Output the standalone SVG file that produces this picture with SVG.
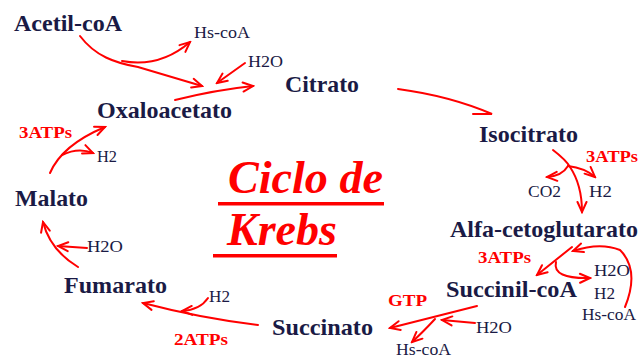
<svg xmlns="http://www.w3.org/2000/svg" width="639" height="360" viewBox="0 0 639 360">
<style>
.n{font-family:"Liberation Serif","Times New Roman",serif;font-weight:bold;font-size:23px;fill:#1a1a45}
.s{font-family:"Liberation Serif","Times New Roman",serif;font-size:17px;fill:#1a1a45}
.r{font-family:"Liberation Serif","Times New Roman",serif;font-weight:bold;font-size:16px;fill:#ff0000}
.t{font-family:"Liberation Serif","Times New Roman",serif;font-weight:bold;font-style:italic;font-size:47px;fill:#ff0000}
.a{fill:none;stroke:#ff0000;stroke-width:2;stroke-linecap:round}
.h{fill:none;stroke:#ff0000;stroke-width:2;stroke-linecap:round;marker-end:url(#v)}
</style>
<defs>
<marker id="v" viewBox="-12 -7 14 14" refX="0" refY="0" markerWidth="14" markerHeight="14" markerUnits="userSpaceOnUse" orient="auto">
<path d="M-10,-4.5 L0,0 L-10,4.5" fill="none" stroke="#ff0000" stroke-width="2" stroke-linecap="round"/>
</marker>
</defs>
<rect width="639" height="360" fill="#ffffff"/>
<g id="title">
<text class="t" x="228" y="193" textLength="155" lengthAdjust="spacingAndGlyphs">Ciclo de</text>
<rect x="218" y="202" width="166" height="3.5" fill="#ff0000"/>
<text class="t" x="227" y="245" textLength="110" lengthAdjust="spacingAndGlyphs">Krebs</text>
<rect x="213" y="254" width="124" height="3.5" fill="#ff0000"/>
</g>
<g id="connectors">
<path class="h" d="M80 36 C95 56 115 63 138 67 L202 86"/>
<path class="h" d="M122 61 Q160 68 190 42"/>
<path class="h" d="M245 63 L217 83"/>
<path class="h" d="M175 100 Q215 90 253 86"/>
<path class="a" d="M398 89 Q450 96 492 114 L473 114"/>
<path class="h" d="M553 150 Q566 160 570 167 Q582 185 582 212"/>
<path class="h" d="M568 166 Q562 176 547 177"/>
<path class="h" d="M568 166 Q585 168 595 177"/>
<path class="h" d="M572 247 L537 275"/>
<path class="h" d="M556 262 Q552 279 590 278"/>
<path class="h" d="M625 307 Q640 270 620 250 Q600 242 573 251"/>
<path class="h" d="M477 306 Q430 318 390 328"/>
<path class="h" d="M475 323 L442 320"/>
<path class="h" d="M435 319 Q422 333 412 342"/>
<path class="h" d="M258 325 Q200 318 143 303"/>
<path class="h" d="M208 298 Q200 310 182 311"/>
<path class="h" d="M78 267 Q50 250 43 222"/>
<path class="h" d="M87 248 L58 246"/>
<path class="h" d="M50 173 Q62 145 105 127"/>
<path class="h" d="M62 155 Q78 147 93 153"/>
</g>
<g id="acetil-coa"><text class="n" x="14" y="31" textLength="108" lengthAdjust="spacingAndGlyphs">Acetil-coA</text></g>
<g id="citrato"><text class="n" x="285" y="92" textLength="74" lengthAdjust="spacingAndGlyphs">Citrato</text></g>
<g id="oxaloacetato"><text class="n" x="97" y="118" textLength="135" lengthAdjust="spacingAndGlyphs">Oxaloacetato</text></g>
<g id="isocitrato"><text class="n" x="479" y="142" textLength="99" lengthAdjust="spacingAndGlyphs">Isocitrato</text></g>
<g id="alfa-cetoglutarato"><text class="n" x="450" y="237" textLength="188" lengthAdjust="spacingAndGlyphs">Alfa-cetoglutarato</text></g>
<g id="succinil-coa"><text class="n" x="446" y="297" textLength="131" lengthAdjust="spacingAndGlyphs">Succinil-coA</text></g>
<g id="succinato"><text class="n" x="272" y="335" textLength="101" lengthAdjust="spacingAndGlyphs">Succinato</text></g>
<g id="fumarato"><text class="n" x="64" y="293" textLength="103" lengthAdjust="spacingAndGlyphs">Fumarato</text></g>
<g id="malato"><text class="n" x="15" y="206" textLength="73" lengthAdjust="spacingAndGlyphs">Malato</text></g>
<g id="labels">
<text class="s" x="194" y="38" textLength="56" lengthAdjust="spacingAndGlyphs">Hs-coA</text>
<text class="s" x="248" y="67" textLength="35" lengthAdjust="spacingAndGlyphs">H2O</text>
<text class="s" x="97" y="162" textLength="20" lengthAdjust="spacingAndGlyphs">H2</text>
<text class="s" x="87" y="252" textLength="36" lengthAdjust="spacingAndGlyphs">H2O</text>
<text class="s" x="209" y="302" textLength="21" lengthAdjust="spacingAndGlyphs">H2</text>
<text class="s" x="528" y="197" textLength="33" lengthAdjust="spacingAndGlyphs">CO2</text>
<text class="s" x="589" y="197" textLength="23" lengthAdjust="spacingAndGlyphs">H2</text>
<text class="s" x="594" y="276" textLength="36" lengthAdjust="spacingAndGlyphs">H2O</text>
<text class="s" x="594" y="299" textLength="21" lengthAdjust="spacingAndGlyphs">H2</text>
<text class="s" x="582" y="320" textLength="54" lengthAdjust="spacingAndGlyphs">Hs-coA</text>
<text class="s" x="476" y="333" textLength="36" lengthAdjust="spacingAndGlyphs">H2O</text>
<text class="s" x="396" y="355" font-size="16" textLength="55" lengthAdjust="spacingAndGlyphs">Hs-coA</text>
<text class="r" x="19" y="138" textLength="53" lengthAdjust="spacingAndGlyphs">3ATPs</text>
<text class="r" x="586" y="162" textLength="52" lengthAdjust="spacingAndGlyphs">3ATPs</text>
<text class="r" x="478" y="263" textLength="53" lengthAdjust="spacingAndGlyphs">3ATPs</text>
<text class="r" x="388" y="306" textLength="39" lengthAdjust="spacingAndGlyphs">GTP</text>
<text class="r" x="174" y="345" textLength="54" lengthAdjust="spacingAndGlyphs">2ATPs</text>
</g>
</svg>
